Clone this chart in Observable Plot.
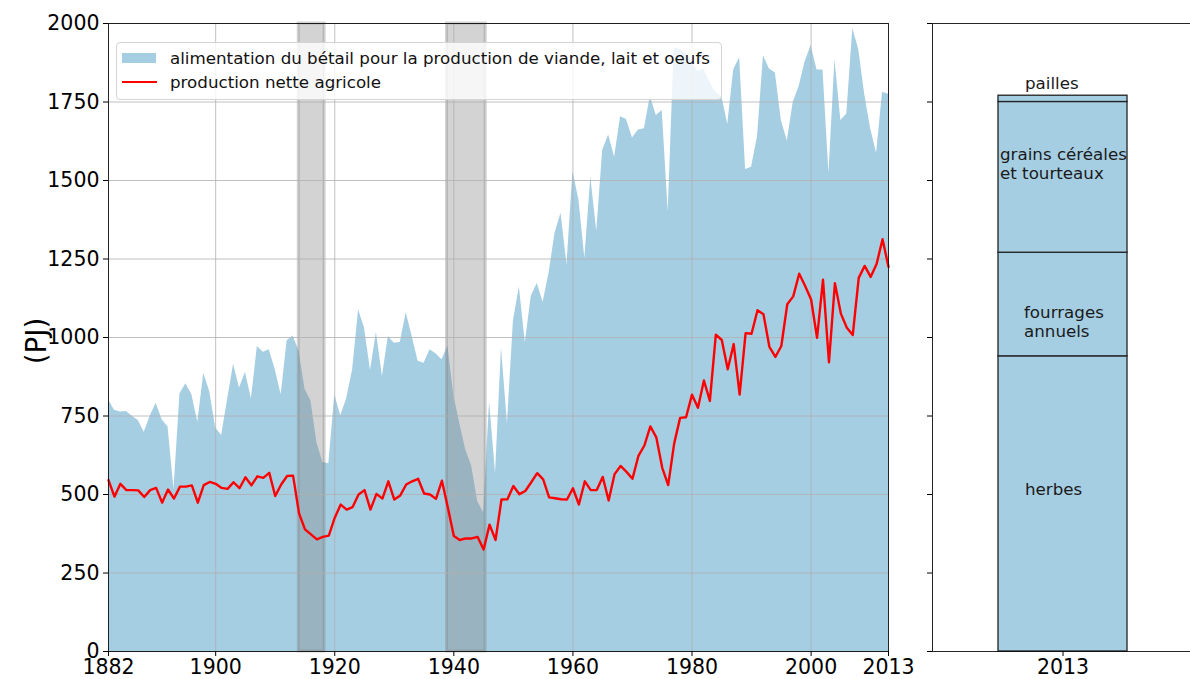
<!DOCTYPE html>
<html>
<head>
<meta charset="utf-8">
<script src="https://cdn.jsdelivr.net/npm/d3@7"></script>
<script src="https://cdn.jsdelivr.net/npm/@observablehq/plot@0.6"></script>
<style>
  html, body { margin: 0; padding: 0; background: #fff; overflow: hidden; }
  #wrap { position: relative; width: 1190px; height: 679px; overflow: hidden; font-family: "DejaVu Sans", sans-serif; color: #000; }
  #left, #right { position: absolute; top: 0; }
  #left { left: 0; width: 900px; }
  #right { left: 900px; width: 294px; }
  #left svg, #right svg { max-width: none !important; height: 679px !important; }
  #ylabel { position: absolute; left: 36px; top: 341px; transform: translate(-50%, -50%) rotate(-90deg); font-size: 27.8px; white-space: nowrap; }
  #legend { position: absolute; left: 116px; top: 42px; width: 606px; height: 58px; box-sizing: border-box;
            background: rgba(255,255,255,0.8); border: 1px solid #d4d4d4; border-radius: 4px; font-size: 16.7px; }
  .lg-row { position: absolute; left: 0; height: 20px; }
  .lg-text { position: absolute; left: 53px; top: 0; line-height: 20px; white-space: nowrap; color: #111; }
</style>
</head>
<body>
<div id="wrap">
  <div id="left"></div>
  <div id="right"></div>
  <div id="ylabel">(PJ)</div>
  <div id="legend"></div>
</div>
<script>
// ---------- data ----------
const firstYear = 1882;
const lastYear = 2013;

// alimentation du bétail pour la production de viande, lait et oeufs (PJ)
const feed = [
  802, 768, 763, 764, 749, 736, 698, 749, 791, 738,   // 1882-1891
  715, 516, 821, 853, 818, 730, 885, 828, 712, 688,   // 1892-1901
  802, 915, 839, 889, 804, 971, 953, 961, 897, 818,   // 1902-1911
  990, 1005, 957, 835, 798, 665, 602, 598, 818, 751,  // 1912-1921
  805, 897, 1088, 1030, 895, 1017, 876, 1003, 982, 984, // 1922-1931
  1079, 1003, 924, 918, 961, 948, 929, 972, 815, 725, // 1932-1941
  642, 590, 478, 442, 795, 567, 967, 725, 1052, 1161, // 1942-1951
  983, 1131, 1172, 1112, 1206, 1333, 1396, 1232, 1529, 1439, // 1952-1961
  1252, 1511, 1338, 1596, 1645, 1574, 1703, 1694, 1635, 1661, // 1962-1971
  1665, 1768, 1707, 1723, 1400, 1923, 1917, 1904, 1878, 1846, // 1972-1981
  1855, 1813, 1781, 1768, 1678, 1852, 1891, 1535, 1542, 1639, // 1982-1991
  1897, 1855, 1842, 1691, 1626, 1749, 1800, 1878, 1930, 1852, // 1992-2001
  1852, 1522, 1885, 1691, 1712, 1984, 1917, 1775, 1665, 1587, // 2002-2011
  1781, 1775                                                  // 2012-2013
];

// production nette agricole (PJ)
const production = [
  546, 493, 534, 514, 514, 513, 492, 514, 521, 474,   // 1882-1891
  516, 487, 525, 525, 529, 474, 530, 540, 534, 521,   // 1892-1901
  518, 539, 520, 555, 529, 558, 553, 569, 495, 532,   // 1902-1911
  559, 560, 440, 389, 373, 357, 365, 369, 426, 468,   // 1912-1921
  452, 460, 500, 514, 452, 502, 487, 542, 484, 497,   // 1922-1931
  532, 542, 550, 503, 500, 486, 544, 458, 368, 355,   // 1932-1941
  360, 360, 365, 325, 404, 355, 484, 485, 527, 501,   // 1942-1951
  511, 539, 568, 548, 491, 488, 485, 484, 520, 468,   // 1952-1961
  542, 514, 514, 556, 481, 565, 591, 572, 550, 623,   // 1962-1971
  656, 717, 682, 585, 530, 662, 744, 746, 818, 776,   // 1972-1981
  863, 798, 1009, 992, 899, 979, 818, 1014, 1012, 1087, // 1982-1991
  1074, 970, 938, 973, 1106, 1131, 1203, 1164, 1121, 999, // 1992-2001
  1184, 921, 1173, 1076, 1031, 1008, 1190, 1228, 1193, 1234, // 2002-2011
  1313, 1225                                                  // 2012-2013
];

const seriesNames = [
  "alimentation du bétail pour la production de viande, lait et oeufs",
  "production nette agricole"
];

// periods of war (shaded)
const warStart = [1913.95, 1938.85];
const warEnd   = [1918.3, 1945.35];

// 2013 breakdown of livestock feed
const partYear = "2013";
const partNames  = ["herbes", "fourrages\nannuels", "grains céréales\net tourteaux", "pailles"];
const partValues = [940, 330, 480, 20];

// axis ticks
const xTicks = [1882, 1900, 1920, 1940, 1960, 1980, 2000, 2013];
const xGrid  = [1900, 1920, 1940, 1960, 1980, 2000];
const yTicks = [0, 250, 500, 750, 1000, 1250, 1500, 1750, 2000];

// ---------- styles ----------
const blue = "#a6cee3";
const gridColor = "#b0b0b0";
const tickFont = 20.5;
const labelFont = 16.7;
// label offsets (pixels) for the 2013 bar
const labelDx = [-38, -39, -63, -38];
const labelDy = [-15, 17, -14, -16];

// ---------- build table ----------
const years = d3.range(firstYear, lastYear + 1);
const series = years.map((year, i) => ({year, feed: feed[i], prod: production[i]}));
const wars = warStart.map((s, i) => ({start: s, end: warEnd[i]}));

const tops = Array.from(d3.cumsum(partValues));
const parts = partNames.map((label, i) => ({
  year: partYear, label, value: partValues[i],
  mid: tops[i] - partValues[i] / 2
}));

const svgStyle = {fontFamily: "DejaVu Sans, sans-serif", fontSize: tickFont + "px", color: "#000",
                  background: "transparent", overflow: "visible", maxWidth: "none"};

// ---------- left panel ----------
const left = Plot.plot({
  width: 900, height: 679,
  marginLeft: 108, marginRight: 12, marginTop: 23, marginBottom: 28,
  style: svgStyle,
  x: {domain: [firstYear, lastYear]},
  y: {domain: [0, 2000]},
  marks: [
    Plot.areaY(series, {x: "year", y: "feed", fill: blue, curve: "linear"}),
    Plot.rect(wars, {x1: "start", x2: "end", fill: "gray", fillOpacity: 0.35, stroke: "gray", strokeOpacity: 0.35, strokeWidth: 3}),
    Plot.gridX({ticks: xGrid, stroke: gridColor, strokeOpacity: 1, strokeWidth: 0.8}),
    Plot.gridY({ticks: yTicks, stroke: gridColor, strokeOpacity: 1, strokeWidth: 0.8}),
    Plot.lineY(series, {x: "year", y: "prod", stroke: "red", strokeWidth: 2.4, curve: "linear"}),
    Plot.frame({stroke: "#000", strokeWidth: 1, strokeOpacity: 0.85}),
    Plot.axisX({ticks: xTicks, tickFormat: d => String(d), tickSize: 5, tickPadding: 3, fontSize: tickFont, label: null}),
    Plot.axisY({ticks: yTicks, tickFormat: d => String(d), tickSize: 5, tickPadding: 4, fontSize: tickFont, label: null})
  ]
});
document.getElementById("left").append(left);

// ---------- right panel ----------
const right = Plot.plot({
  width: 294, height: 679,
  marginLeft: 32, marginRight: 0, marginTop: 23, marginBottom: 28,
  style: svgStyle,
  x: {type: "band", domain: [partYear], padding: 0.337},
  y: {domain: [0, 2000]},
  marks: [
    Plot.barY(parts, {x: "year", y: "value", fill: blue, stroke: "#222", strokeWidth: 1.3}),
    ...parts.map((p, i) => Plot.text([p], {
      x: "year", y: "mid", text: "label", textAnchor: "start",
      dx: labelDx[i], dy: labelDy[i], fontSize: labelFont, lineHeight: 1.15, fill: "#1a1a1a"
    })),
    Plot.frame({stroke: "#000", strokeWidth: 1, strokeOpacity: 0.85}),
    Plot.axisX({tickSize: 5, tickPadding: 3, fontSize: tickFont, label: null}),
    Plot.axisY({ticks: yTicks, tickFormat: () => "", tickSize: 5, label: null})
  ]
});
document.getElementById("right").append(right);

// ---------- legend ----------
const legend = document.getElementById("legend");
seriesNames.forEach((name, i) => {
  const row = document.createElement("div");
  row.className = "lg-row";
  row.style.top = (i === 0 ? 5 : 29) + "px";
  row.style.width = "100%";
  const key = document.createElement("div");
  key.style.position = "absolute";
  key.style.left = "5px";
  if (i === 0) {
    key.style.top = "5px"; key.style.width = "34px"; key.style.height = "10px";
    key.style.background = blue;
  } else {
    key.style.top = "9px"; key.style.width = "35px"; key.style.height = "2.2px";
    key.style.background = "red";
  }
  const txt = document.createElement("div");
  txt.className = "lg-text";
  txt.textContent = name;
  row.append(key, txt);
  legend.append(row);
});
</script>
</body>
</html>
